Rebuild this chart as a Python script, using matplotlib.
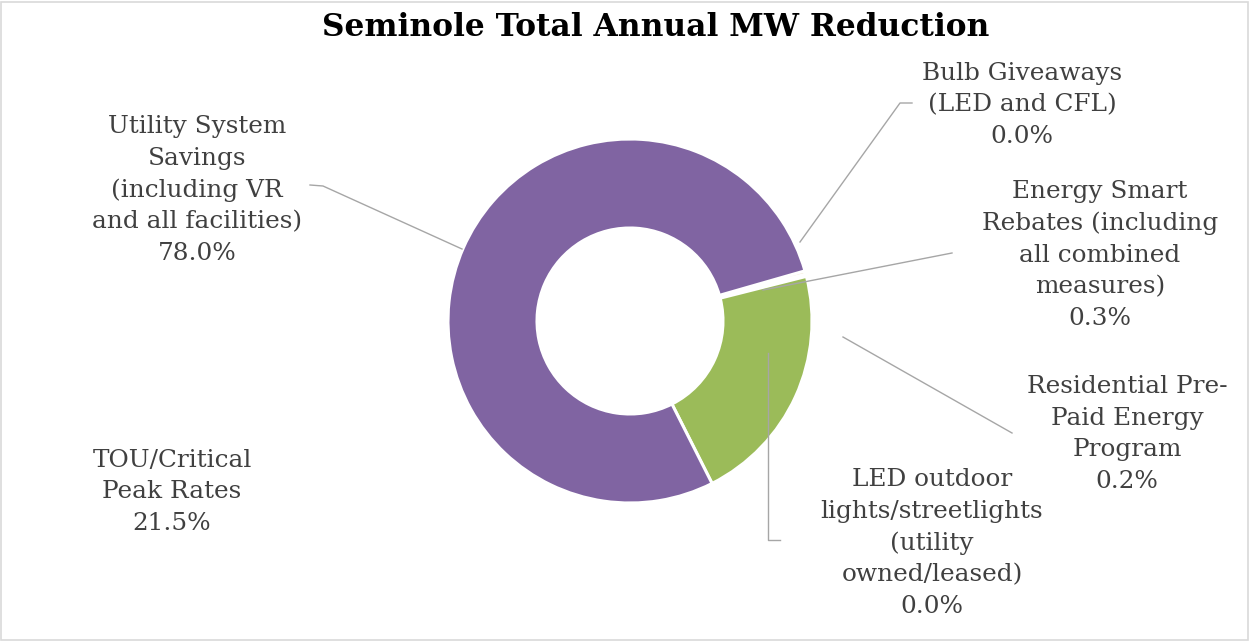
import matplotlib
matplotlib.use("Agg")
import matplotlib.pyplot as plt
from matplotlib.patches import Rectangle

# data
categories = ["Bulb Giveaways\n(LED and CFL)",
              "Energy Smart\nRebates (including\nall combined\nmeasures)",
              "Residential Pre-\nPaid Energy\nProgram",
              "LED outdoor\nlights/streetlights\n(utility\nowned/leased)",
              "TOU/Critical\nPeak Rates",
              "Utility System\nSavings\n(including VR\nand all facilities)"]
shares = [0.0, 0.3, 0.2, 0.0, 21.5, 78.0]
colors = ["#4F81BD", "#D9B45A", "#C3CE6E", "#8AA7D1", "#9BBB59", "#8064A2"]

W, H = 1250, 641
fig = plt.figure(figsize=(W / 100, H / 100), dpi=100)
ax = fig.add_axes([0, 0, 1, 1])

def py(y):
    # pixel row (from top) -> data y
    return H - y

ax.pie(shares, colors=colors, startangle=16, counterclock=False,
       center=(630, py(321)), radius=182,
       wedgeprops=dict(width=89, edgecolor="white", linewidth=2.2))
ax.set_xlim(0, W)
ax.set_ylim(0, H)
ax.set_aspect("equal")
ax.axis("off")

# label positions (centre of text block, pixels)
label_pos = [(1022, 105), (1100, 255), (1127, 434), (932, 543), (172, 492), (197, 190)]
txt = "#404040"
for name, val, (x, y) in zip(categories, shares, label_pos):
    ax.text(x, py(y), f"{name}\n{val:.1f}%", ha="center", va="center",
            fontsize=17.8, family="DejaVu Serif", color=txt, linespacing=1.47)

# leader lines
leaders = [
    [(800, 242), (900, 103), (912, 103)],
    [(763, 290), (952, 253)],
    [(843, 337), (1012, 433)],
    [(768, 353), (768, 540), (780, 540)],
    [(462, 249), (323, 186), (310, 185)],
]
for pts in leaders:
    xs = [p[0] for p in pts]
    ys = [py(p[1]) for p in pts]
    ax.plot(xs, ys, color="#A6A6A6", lw=1.0)

ax.text(656, py(28), "Seminole Total Annual MW Reduction", ha="center", va="center",
        fontsize=22.5, fontweight="bold", family="DejaVu Serif", color="black")

ax.add_patch(Rectangle((1, 1), W - 3, H - 3, fill=False, edgecolor="#D9D9D9", lw=1.2))

fig.savefig("out.png", dpi=100)
